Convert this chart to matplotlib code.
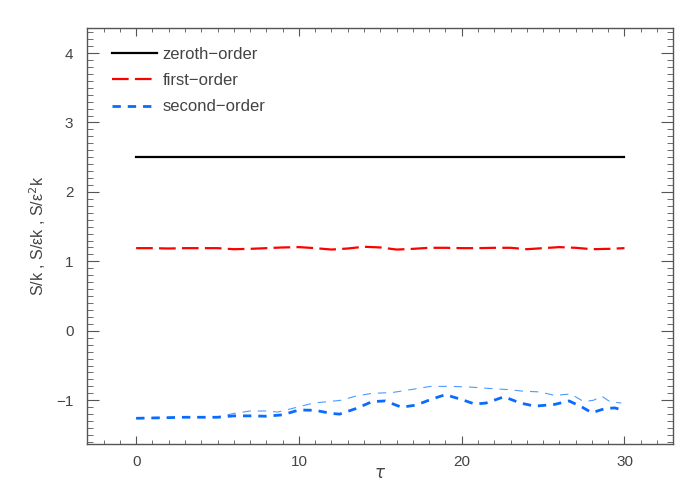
import matplotlib
matplotlib.use('Agg')
import matplotlib.pyplot as plt
from matplotlib.ticker import MultipleLocator

# data
tau = list(range(0, 31))
zeroth = [2.5] * 31
first = [1.19, 1.19, 1.185, 1.19, 1.19, 1.19, 1.175, 1.18, 1.19, 1.20, 1.205,
         1.19, 1.17, 1.185, 1.21, 1.20, 1.17, 1.18, 1.195, 1.195, 1.19, 1.19,
         1.195, 1.195, 1.175, 1.19, 1.205, 1.195, 1.175, 1.18, 1.19]

tau2 = [0, 1, 2, 3, 4, 5, 6, 7, 8, 9, 10, 11, 12, 12.5, 13.5, 14.5, 15.3, 16.3,
        17.2, 18.2, 19, 20, 20.8, 21.5, 22.6, 23.6, 24.5, 25.7, 26.6, 27.4, 28,
        28.8, 29.4, 30]
second = [-1.26, -1.255, -1.25, -1.245, -1.245, -1.245, -1.225, -1.225, -1.23,
          -1.21, -1.14, -1.145, -1.19, -1.2, -1.12, -1.02, -1.01, -1.1, -1.07,
          -0.98, -0.92, -0.99, -1.055, -1.04, -0.95, -1.04, -1.085, -1.06, -1.01,
          -1.1, -1.18, -1.12, -1.11, -1.15]

tau3 = [0, 1, 2, 3, 4, 5, 6, 7, 8, 8.7, 9.9, 10.9, 11.8, 12.6, 13.5, 14.5, 15.7,
        16.9, 18.1, 19.3, 20.5, 21.7, 22.8, 23.8, 24.8, 25.7, 26.7, 27.5, 28.1,
        28.6, 29.1, 29.8]
second_b = [-1.26, -1.255, -1.25, -1.245, -1.245, -1.24, -1.19, -1.155, -1.155,
            -1.17, -1.1, -1.04, -1.02, -1.0, -0.94, -0.9, -0.89, -0.846, -0.80,
            -0.80, -0.81, -0.83, -0.846, -0.87, -0.88, -0.93, -0.91, -1.02, -1.0,
            -0.94, -1.02, -1.04]

labels = ['zeroth\u2212order', 'first\u2212order', 'second\u2212order']

plt.rcParams['font.family'] = ['Liberation Sans', 'DejaVu Sans']
plt.rcParams['lines.scale_dashes'] = False
txt = '#444444'
axc = '#555555'

fig = plt.figure(figsize=(7, 5), dpi=100)
ax = fig.add_axes([0.1247, 0.112, 0.8372, 0.832])

ax.plot(tau, zeroth, color='black', lw=1.6, label=labels[0])
ax.plot(tau, first, color='red', lw=1.6, dashes=(12, 4.5), label=labels[1])
ax.plot(tau3, second_b, color='#4d9aff', lw=0.8, dashes=(6, 5))
ax.plot(tau2, second, color='#0a6cff', lw=2.0, dashes=(6, 5), label=labels[2])

ax.set_xlim(-3, 33)
ax.set_ylim(-1.63, 4.36)
ax.xaxis.set_major_locator(MultipleLocator(10))
ax.xaxis.set_minor_locator(MultipleLocator(1))
ax.yaxis.set_major_locator(MultipleLocator(1))
ax.yaxis.set_minor_locator(MultipleLocator(0.1))

ax.tick_params(axis='both', which='both', direction='in', top=True, right=True,
               color=axc, labelcolor=txt, labelsize=11)
ax.tick_params(axis='x', which='major', length=6, pad=8)
ax.tick_params(axis='x', which='minor', length=3)
ax.tick_params(axis='y', which='major', length=8.6, pad=10)
ax.tick_params(axis='y', which='minor', length=4.3)
for s in ax.spines.values():
    s.set_color(axc)
    s.set_linewidth(1.0)

ax.set_xlabel(r'$\tau$', color=txt, fontsize=12, labelpad=-2)
ax.set_ylabel('S/k , S/\u03b5k , S/\u03b5$^2$k', color=txt, fontsize=11.5, labelpad=6)

leg = ax.legend(loc='upper left', bbox_to_anchor=(0.042, 0.955), frameon=False,
                fontsize=12, handlelength=2.7, handletextpad=0.35,
                labelspacing=0.68, borderpad=0, borderaxespad=0)
for t in leg.get_texts():
    t.set_color(txt)

fig.savefig('out.png', dpi=100)
